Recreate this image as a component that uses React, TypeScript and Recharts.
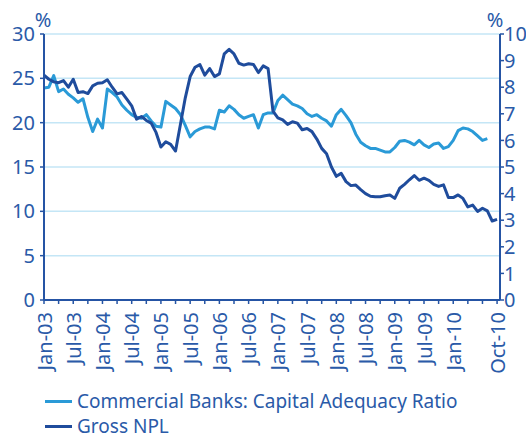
import React from 'react';
import { LineChart, Line, XAxis, YAxis, CartesianGrid, Legend } from 'recharts';

const monthNames = ['Jan', 'Feb', 'Mar', 'Apr', 'May', 'Jun', 'Jul', 'Aug', 'Sep', 'Oct', 'Nov', 'Dec'];
const years = ['03', '04', '05', '06', '07', '08', '09', '10'];

const tickIdx = [0, 3, 6, 9, 12, 15, 18, 21, 24, 27, 30, 33, 36, 39, 42, 45, 48, 51, 54, 57, 60, 63, 66, 69, 72, 75, 78, 81, 84, 87, 90, 93];
const tickLabels = ['Jan-03', 'Jul-03', 'Jan-04', 'Jul-04', 'Jan-05', 'Jul-05', 'Jan-06', 'Jul-06', 'Jan-07', 'Jul-07', 'Jan-08', 'Jul-08', 'Jan-09', 'Jul-09', 'Jan-10', 'Oct-10'];

// Commercial Banks: Capital Adequacy Ratio (%), left axis, Jan-03 .. Aug-10
const car = [
  23.9, 24.0, 25.3, 23.5, 23.8, 23.2, 22.8, 22.3, 22.7, 20.6,
  19.0, 20.4, 19.4, 23.8, 23.4, 22.9, 22.0, 21.4, 20.9, 20.6,
  20.5, 20.9, 20.2, 19.6, 19.5, 22.4, 22.0, 21.6, 20.9, 19.7,
  18.4, 19.0, 19.3, 19.5, 19.5, 19.3, 21.4, 21.2, 21.9, 21.5,
  20.9, 20.5, 20.7, 20.9, 19.4, 20.9, 21.1, 21.1, 22.5, 23.1,
  22.6, 22.1, 21.9, 21.6, 21.0, 20.7, 20.9, 20.5, 20.2, 19.6,
  20.9, 21.5, 20.8, 20.0, 18.7, 17.8, 17.4, 17.1, 17.1, 16.9,
  16.7, 16.7, 17.2, 17.9, 18.0, 17.8, 17.5, 18.0, 17.5, 17.2,
  17.6, 17.7, 17.1, 17.3, 18.0, 19.1, 19.4, 19.3, 19.0, 18.5,
  18.0, 18.2,
];

// Gross NPL (%), right axis, Jan-03 .. Oct-10
const npl = [
  8.45, 8.30, 8.20, 8.17, 8.25, 8.00, 8.30, 7.80, 7.83, 7.76,
  8.05, 8.15, 8.17, 8.28, 8.00, 7.75, 7.80, 7.55, 7.30, 6.80,
  6.90, 6.75, 6.65, 6.30, 5.75, 5.95, 5.85, 5.60, 6.60, 7.60,
  8.40, 8.75, 8.85, 8.45, 8.70, 8.40, 8.50, 9.25, 9.42, 9.25,
  8.90, 8.83, 8.88, 8.85, 8.55, 8.80, 8.70, 7.10, 6.85, 6.77,
  6.60, 6.70, 6.65, 6.40, 6.45, 6.33, 6.05, 5.70, 5.50, 5.00,
  4.65, 4.76, 4.45, 4.30, 4.32, 4.15, 4.00, 3.90, 3.88, 3.88,
  3.92, 3.95, 3.82, 4.20, 4.35, 4.52, 4.68, 4.50, 4.58, 4.50,
  4.35, 4.27, 4.33, 3.85, 3.85, 3.95, 3.82, 3.50, 3.57, 3.33,
  3.45, 3.35, 2.97, 3.03,
];

const leftTicks = [0, 5, 10, 15, 20, 25, 30];
const rightTicks = [0, 1, 2, 3, 4, 5, 6, 7, 8, 9, 10];

const seriesNames = ['Commercial Banks: Capital Adequacy Ratio', 'Gross NPL'];
const LIGHT = '#2a9ad7';
const DARK = '#1f4c9c';
const TEXT = '#2a5aa8';
const AXIS = '#2554a4';
const GRID = '#c4e6f6';
const FONT = '"Noto Sans", "Open Sans", sans-serif';

const data = npl.map((v, i) => ({
  idx: i,
  month: `${monthNames[i % 12]}-${years[Math.floor(i / 12)]}`,
  car: i < car.length ? car[i] : undefined,
  npl: v,
}));

const labelFor = (i: number): string => {
  const m = `${monthNames[i % 12]}-${years[Math.floor(i / 12)]}`;
  return tickLabels.includes(m) ? m : '';
};

const XTick = (props: any) => {
  const { x, y, payload } = props;
  const text = labelFor(payload.value);
  if (!text) return null;
  return (
    <text
      transform={`translate(${x},${y}) rotate(-90)`}
      textAnchor="end"
      dominantBaseline="central"
      fill={TEXT}
      fontSize={20}
      fontFamily={FONT}
    >
      {text}
    </text>
  );
};

const pctLeft = (p: any) => {
  const vb = p.viewBox;
  return (
    <text x={vb.x + vb.width - 1} y={vb.y - 7} textAnchor="middle" fill={TEXT} fontSize={20} fontFamily={FONT}>
      %
    </text>
  );
};

const pctRight = (p: any) => {
  const vb = p.viewBox;
  return (
    <text x={vb.x - 5} y={vb.y - 7} textAnchor="middle" fill={TEXT} fontSize={20} fontFamily={FONT}>
      %
    </text>
  );
};

const LegendContent = () => (
  <div style={{ fontFamily: FONT, fontSize: 19, color: TEXT, lineHeight: '25px' }}>
    {[LIGHT, DARK].map((c, k) => (
      <div key={k} style={{ display: 'flex', alignItems: 'center', whiteSpace: 'nowrap', height: 25 }}>
        <span style={{ display: 'inline-block', width: 27, height: 3, background: c, marginRight: 5 }} />
        <span>{seriesNames[k]}</span>
      </div>
    ))}
  </div>
);

export default function App() {
  return (
    <div style={{ position: 'absolute', left: 0, top: 0 }}>
      <LineChart width={526} height={439} data={data} margin={{ top: 34, right: 0, left: 0, bottom: 0 }}>
        <CartesianGrid yAxisId="left" vertical={false} stroke={GRID} strokeWidth={1.5} />
        <XAxis
          dataKey="idx"
          type="number"
          domain={[0, 93.6]}
          ticks={tickIdx}
          interval={0}
          height={89}
          tickSize={4}
          tickMargin={8}
          axisLine={{ stroke: AXIS, strokeWidth: 2 }}
          tickLine={{ stroke: AXIS, strokeWidth: 1.5 }}
          tick={<XTick />}
        />
        <YAxis
          yAxisId="left"
          orientation="left"
          width={44}
          domain={[0, 30]}
          ticks={leftTicks}
          interval={0}
          tickSize={4}
          tickMargin={5}
          axisLine={{ stroke: AXIS, strokeWidth: 2 }}
          tickLine={{ stroke: AXIS, strokeWidth: 1.5 }}
          tick={{ fill: TEXT, fontSize: 20, fontFamily: FONT }}
          label={pctLeft}
        />
        <YAxis
          yAxisId="right"
          orientation="right"
          width={26}
          domain={[0, 10]}
          ticks={rightTicks}
          interval={0}
          tickSize={4}
          tickMargin={0}
          axisLine={{ stroke: AXIS, strokeWidth: 2 }}
          tickLine={{ stroke: AXIS, strokeWidth: 1.5 }}
          tick={{ fill: TEXT, fontSize: 20, fontFamily: FONT }}
          label={pctRight}
        />
        <Legend
          verticalAlign="bottom"
          content={<LegendContent />}
          wrapperStyle={{ left: 45, top: 389, width: 480, height: 50 }}
        />
        <Line
          yAxisId="left"
          dataKey="car"
          name={seriesNames[0]}
          stroke={LIGHT}
          strokeWidth={3}
          dot={false}
          strokeLinejoin="round"
          isAnimationActive={false}
        />
        <Line
          yAxisId="right"
          dataKey="npl"
          name={seriesNames[1]}
          stroke={DARK}
          strokeWidth={3}
          dot={false}
          strokeLinejoin="round"
          isAnimationActive={false}
        />
      </LineChart>
    </div>
  );
}
